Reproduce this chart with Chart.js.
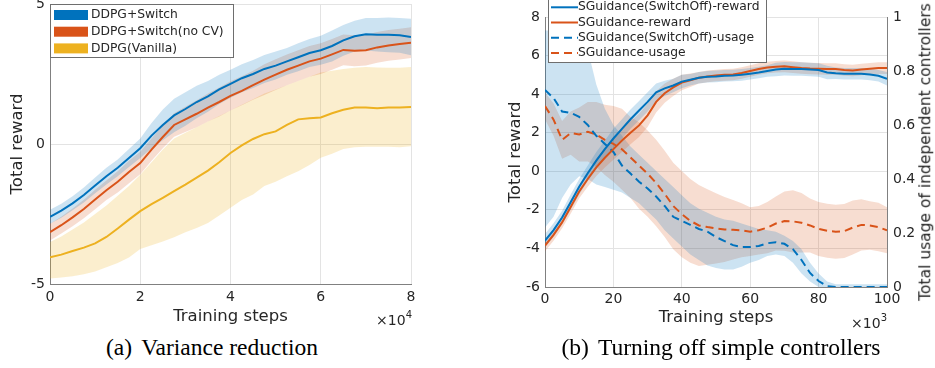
<!DOCTYPE html>
<html>
<head>
<meta charset="utf-8">
<title>Training reward</title>
<script src="https://cdn.jsdelivr.net/npm/chart.js@4.4.1/dist/chart.umd.min.js"></script>
<style>
  body { margin: 0; background: #fff; font-family: 'DejaVu Sans', sans-serif; color: #262626; }
  #page { position: relative; width: 935px; height: 368px; overflow: hidden; }
  canvas { position: absolute; top: 0; }
  #chartA { left: 0; }
  #chartB { left: 470px; }
  .scale-note { position: absolute; font-size: 14px; line-height: 1; white-space: nowrap; }
  .scale-note sup { font-size: 10px; position: relative; top: -1px; }
  .caption { position: absolute; top: 336px; font-family: 'Liberation Serif', serif; font-size: 23.5px; line-height: 1; white-space: nowrap; transform: translateX(-50%); color: #000; }
  .caption span { margin-right: 9px; }
  #usageTitle { position: absolute; left: 926px; top: 152px; font-size: 15.5px; line-height: 1; white-space: nowrap; transform: translate(-50%, -50%) rotate(-90deg); }
</style>
</head>
<body>
<div id="page">
  <canvas id="chartA" width="440" height="330"></canvas>
  <canvas id="chartB" width="465" height="330"></canvas>
  <div class="scale-note" style="right:523px; top:311px;">&times;10<sup>4</sup></div>
  <div class="scale-note" style="right:48px; top:314px;">&times;10<sup>3</sup></div>
  <div id="usageTitle">Total usage of independent controllers</div>
  <div class="caption" style="left:212px;"><span>(a)</span>Variance reduction</div>
  <div class="caption" style="left:721px;"><span>(b)</span>Turning off simple controllers</div>
</div>
<script>
// ---- (a) variance reduction, x in 1e4 steps ----
const stepsA = [0, 0.25, 0.5, 0.75, 1, 1.25, 1.5, 1.75, 2, 2.25, 2.5, 2.75, 3, 3.25, 3.5, 3.75, 4,
                4.25, 4.5, 4.75, 5, 5.25, 5.5, 5.75, 6, 6.25, 6.5, 6.75, 7, 7.25, 7.5, 7.75, 8];
const seriesA = ['DDPG+Switch', 'DDPG+Switch(no CV)', 'DDPG(Vanilla)'];
const switchMean = [-2.6, -2.38, -2.12, -1.82, -1.48, -1.15, -0.85, -0.5, -0.15, 0.3, 0.68, 1.02, 1.25, 1.5, 1.7, 1.95, 2.15,
                    2.35, 2.5, 2.68, 2.8, 2.95, 3.1, 3.25, 3.35, 3.5, 3.7, 3.85, 3.92, 3.9, 3.9, 3.88, 3.82];
const switchSpread = [0.25, 0.25, 0.25, 0.27, 0.28, 0.3, 0.3, 0.32, 0.35, 0.45, 0.55, 0.6, 0.6, 0.58, 0.55, 0.52, 0.5,
                      0.5, 0.5, 0.5, 0.5, 0.48, 0.5, 0.5, 0.52, 0.55, 0.55, 0.55, 0.58, 0.6, 0.62, 0.62, 0.65];
const noCvMean = [-3.15, -2.9, -2.62, -2.32, -1.98, -1.65, -1.35, -1.0, -0.68, -0.2, 0.25, 0.68, 0.88, 1.08, 1.3, 1.5, 1.72,
                  1.9, 2.1, 2.3, 2.48, 2.65, 2.8, 2.95, 3.05, 3.2, 3.36, 3.33, 3.35, 3.45, 3.52, 3.57, 3.62];
const noCvSpread = [0.3, 0.3, 0.32, 0.33, 0.35, 0.35, 0.38, 0.4, 0.4, 0.4, 0.4, 0.42, 0.45, 0.48, 0.5, 0.52, 0.52,
                    0.52, 0.52, 0.55, 0.55, 0.55, 0.55, 0.55, 0.55, 0.55, 0.55, 0.55, 0.55, 0.55, 0.55, 0.55, 0.55];
const vanillaMean = [-4.05, -3.95, -3.82, -3.7, -3.55, -3.32, -3.02, -2.7, -2.4, -2.15, -1.92, -1.68, -1.45, -1.2, -0.95, -0.65, -0.32,
                     -0.05, 0.18, 0.35, 0.45, 0.68, 0.88, 0.92, 0.95, 1.1, 1.22, 1.3, 1.3, 1.28, 1.3, 1.3, 1.32];
const vanillaHigh = [-3.5, -3.3, -3.05, -2.8, -2.5, -2.2, -1.85, -1.5, -1.1, -0.65, -0.2, 0.2, 0.4, 0.6, 0.8, 1.0, 1.2,
                     1.4, 1.6, 1.8, 1.95, 2.1, 2.25, 2.4, 2.55, 2.62, 2.68, 2.72, 2.75, 2.73, 2.72, 2.72, 2.75];
const vanillaLow = [-4.8, -4.77, -4.72, -4.65, -4.55, -4.4, -4.25, -4.05, -3.75, -3.62, -3.48, -3.33, -3.15, -3.0, -2.82, -2.55, -2.28,
                    -2.0, -1.8, -1.5, -1.35, -1.15, -0.97, -0.75, -0.49, -0.35, -0.18, -0.12, -0.1, -0.1, -0.1, -0.12, -0.08];
const ticksA = { x: [0, 8, 2], y: [-5, 5, 5] };

// ---- (b) switching off simple controllers, x in 1e3 steps ----
const stepsB = [0, 2.5, 5, 7.5, 10, 12.5, 15, 17.5, 20, 22.5, 25, 27.5, 30, 32.5, 35, 37.5, 40, 42.5, 45, 47.5, 50,
                52.5, 55, 57.5, 60, 62.5, 65, 67.5, 70, 72.5, 75, 77.5, 80, 82.5, 85, 87.5, 90, 92.5, 95, 97.5, 100];
const seriesB = ['SGuidance(SwitchOff)-reward', 'SGuidance-reward', 'SGuidance(SwitchOff)-usage', 'SGuidance-usage'];
const offReward = [-3.6, -3.05, -2.4, -1.6, -0.8, -0.1, 0.55, 1.15, 1.7, 2.2, 2.7, 3.15, 3.6, 4.1, 4.3, 4.45, 4.65, 4.75, 4.85, 4.9, 4.92,
                   4.95, 4.97, 5.0, 5.06, 5.12, 5.2, 5.28, 5.32, 5.3, 5.3, 5.28, 5.25, 5.12, 5.08, 5.06, 5.06, 5.06, 5.02, 4.95, 4.8];
const offRewardSpread = [0.35, 0.35, 0.35, 0.4, 0.4, 0.4, 0.45, 0.45, 0.5, 0.5, 0.5, 0.5, 0.5, 0.45, 0.4, 0.35, 0.35, 0.3, 0.3, 0.3, 0.3,
                         0.3, 0.3, 0.3, 0.3, 0.3, 0.3, 0.35, 0.35, 0.35, 0.35, 0.35, 0.35, 0.35, 0.3, 0.3, 0.3, 0.3, 0.3, 0.3, 0.35];
const guideReward = [-3.85, -3.3, -2.65, -1.85, -1.05, -0.4, 0.2, 0.7, 1.15, 1.6, 2.0, 2.38, 2.9, 3.6, 4.05, 4.35, 4.6, 4.72, 4.85, 4.92, 4.97,
                     5.0, 5.02, 5.1, 5.2, 5.3, 5.38, 5.42, 5.44, 5.4, 5.36, 5.33, 5.32, 5.3, 5.3, 5.25, 5.23, 5.28, 5.32, 5.35, 5.35];
const guideRewardSpread = [0.3, 0.3, 0.3, 0.35, 0.35, 0.4, 0.45, 0.5, 0.55, 0.6, 0.6, 0.6, 0.6, 0.55, 0.5, 0.45, 0.4, 0.35, 0.3, 0.3, 0.3,
                           0.3, 0.3, 0.3, 0.3, 0.3, 0.3, 0.3, 0.3, 0.3, 0.3, 0.3, 0.3, 0.3, 0.3, 0.3, 0.3, 0.3, 0.3, 0.3, 0.3];
const offUsage = [0.73, 0.70, 0.65, 0.645, 0.63, 0.60, 0.56, 0.53, 0.50, 0.45, 0.42, 0.39, 0.365, 0.335, 0.30, 0.26, 0.245, 0.23, 0.215, 0.205, 0.185,
                  0.17, 0.155, 0.148, 0.148, 0.152, 0.162, 0.166, 0.16, 0.14, 0.10, 0.052, 0.022, 0.003, 0, 0, 0, 0, 0, 0, 0];
const offUsageHigh = [0.95, 0.95, 0.95, 0.93, 0.92, 0.88, 0.75, 0.66, 0.6, 0.56, 0.52, 0.49, 0.46, 0.43, 0.4, 0.37, 0.34, 0.31, 0.29, 0.275, 0.26,
                      0.25, 0.245, 0.235, 0.225, 0.215, 0.21, 0.205, 0.19, 0.17, 0.14, 0.09, 0.05, 0.02, 0.01, 0.01, 0.01, 0.01, 0.01, 0.01, 0.01];
const offUsageLow = [0.22, 0.26, 0.33, 0.38, 0.41, 0.4, 0.38, 0.37, 0.36, 0.35, 0.33, 0.31, 0.28, 0.25, 0.21, 0.18, 0.15, 0.12, 0.1, 0.08, 0.07,
                     0.065, 0.065, 0.075, 0.09, 0.1, 0.115, 0.12, 0.115, 0.09, 0.05, 0.02, 0, 0, 0, 0, 0, 0, 0, 0, 0];
const guideUsage = [0.67, 0.62, 0.545, 0.57, 0.565, 0.575, 0.565, 0.545, 0.53, 0.51, 0.48, 0.45, 0.42, 0.385, 0.345, 0.3, 0.27, 0.245, 0.228, 0.222, 0.217,
                    0.213, 0.212, 0.21, 0.205, 0.21, 0.22, 0.235, 0.244, 0.243, 0.238, 0.228, 0.215, 0.208, 0.205, 0.207, 0.22, 0.23, 0.228, 0.222, 0.21];
const guideUsageSpread = [0.05, 0.06, 0.07, 0.08, 0.1, 0.11, 0.12, 0.13, 0.14, 0.15, 0.15, 0.16, 0.16, 0.16, 0.16, 0.16, 0.16, 0.155, 0.15, 0.14, 0.13,
                          0.12, 0.11, 0.1, 0.09, 0.09, 0.095, 0.1, 0.11, 0.115, 0.11, 0.1, 0.1, 0.1, 0.1, 0.1, 0.1, 0.095, 0.09, 0.09, 0.085];
const ticksB = { x: [0, 100, 20], y: [-6, 8, 2], y1: [0, 1, 0.2] };

const BLUE = '#0072BD', ORANGE = '#D95319', YELLOW = '#EDB120';
const INK = '#262626', AXIS = '#808080', GRID = '#e3e3e3';
const FONT = 'DejaVu Sans';

function pts(xs, ys) {
    return xs.map((x, i) => ({ x: x, y: ys[i] }));
}
function plus(a, b) { return a.map((v, i) => v + b[i]); }
function minus(a, b) { return a.map((v, i) => v - b[i]); }

// line for a mean curve
function lineSet(label, xs, ys, color, axis, dash) {
    return {
        label: label, data: pts(xs, ys), yAxisID: axis,
        borderColor: color, borderWidth: 2, borderDash: dash || [],
        pointRadius: 0, fill: false, tension: 0
    };
}
// shaded band: upper edge filled down to the lower edge
function bandSets(xs, lo, hi, fillColor, axis) {
    const clear = 'rgba(0,0,0,0)';
    return [
        { data: pts(xs, hi), yAxisID: axis, borderColor: clear, borderWidth: 1, pointRadius: 0, fill: '+1', backgroundColor: fillColor },
        { data: pts(xs, lo), yAxisID: axis, borderColor: clear, borderWidth: 1, pointRadius: 0, fill: false }
    ];
}

// legend drawn inside the plot like the Matlab box
const boxLegend = {
    id: 'boxLegend',
    afterDraw(chart, args, o) {
        const ctx = chart.ctx;
        ctx.save();
        ctx.fillStyle = '#ffffff';
        ctx.fillRect(o.x, o.y, o.w, o.h);
        ctx.strokeStyle = '#6e6e6e';
        ctx.lineWidth = 1;
        ctx.strokeRect(o.x + 0.5, o.y + 0.5, o.w, o.h);
        ctx.font = o.font;
        ctx.textBaseline = 'middle';
        o.items.forEach((it, i) => {
            const cy = o.y + o.first + i * o.row;
            if (it.patch) {
                ctx.fillStyle = it.color;
                ctx.fillRect(o.x + o.sx, cy - 5, o.sw, 10);
            } else {
                ctx.strokeStyle = it.color;
                ctx.lineWidth = 2;
                ctx.setLineDash(it.dash || []);
                ctx.beginPath();
                ctx.moveTo(o.x + o.sx, cy);
                ctx.lineTo(o.x + o.sx + o.sw, cy);
                ctx.stroke();
                ctx.setLineDash([]);
            }
            ctx.fillStyle = INK;
            ctx.fillText(it.text, o.x + o.tx, cy);
        });
        ctx.restore();
    }
};

function axisOpts(range, extra) {
    return Object.assign({
        type: 'linear', min: range[0], max: range[1],
        ticks: { stepSize: range[2], color: INK, font: { family: FONT, size: 14 } },
        grid: { color: GRID, drawTicks: false },
        border: { color: AXIS }
    }, extra);
}
function fixX(h) {
    return s => { s.height = h; s.paddingLeft = 0; s.paddingRight = 0; };
}
function fixY(w) {
    return s => { s.width = w; s.paddingTop = 0; s.paddingBottom = 0; };
}
function titleOpts(text, pad) {
    return { display: true, text: text, color: INK, font: { family: FONT, size: 16.5 }, padding: pad };
}
function baseOptions() {
    return {
        responsive: false, animation: false, devicePixelRatio: 1, events: [],
        plugins: { legend: { display: false }, tooltip: { enabled: false }, filler: { drawTime: 'beforeDatasetsDraw' } }
    };
}

// ---- chart (a) ----
const optsA = baseOptions();
optsA.layout = { autoPadding: false, padding: { left: 0, right: 29, top: 4, bottom: 0 } };
optsA.scales = {
    x: axisOpts(ticksA.x, { afterFit: fixX(46), title: titleOpts('Training steps', { top: 0, bottom: 3 }) }),
    y: axisOpts(ticksA.y, { afterFit: fixY(50), title: titleOpts('Total reward', { top: 8, bottom: 0 }) })
};
optsA.scales.x.ticks.padding = 5;
optsA.scales.y.ticks.padding = 5;
optsA.plugins.boxLegend = {
    x: 50, y: 4, w: 183, h: 53, first: 11, row: 16.7, sx: 4, sw: 34, tx: 41,
    font: '12.3px "DejaVu Sans"',
    items: [
        { text: seriesA[0], color: BLUE, patch: true },
        { text: seriesA[1], color: ORANGE, patch: true },
        { text: seriesA[2], color: YELLOW, patch: true }
    ]
};
new Chart(document.getElementById('chartA'), {
    type: 'line',
    data: {
        datasets: [
            lineSet(seriesA[0], stepsA, switchMean, BLUE, 'y'),
            lineSet(seriesA[1], stepsA, noCvMean, ORANGE, 'y'),
            lineSet(seriesA[2], stepsA, vanillaMean, YELLOW, 'y'),
            ...bandSets(stepsA, minus(switchMean, switchSpread), plus(switchMean, switchSpread), 'rgba(0,114,189,0.2)', 'y'),
            ...bandSets(stepsA, minus(noCvMean, noCvSpread), plus(noCvMean, noCvSpread), 'rgba(217,83,25,0.2)', 'y'),
            ...bandSets(stepsA, vanillaLow, vanillaHigh, 'rgba(237,177,32,0.22)', 'y')
        ]
    },
    options: optsA,
    plugins: [boxLegend]
});

// ---- chart (b) ----
const optsB = baseOptions();
optsB.layout = { autoPadding: false, padding: { left: 0, right: 0, top: 17, bottom: 0 } };
optsB.scales = {
    x: axisOpts(ticksB.x, { afterFit: fixX(43), title: titleOpts('Training steps', { top: 0, bottom: 2.4 }) }),
    y: axisOpts(ticksB.y, { position: 'left', afterFit: fixY(75), title: titleOpts('Total reward', { top: 35.4, bottom: 0 }) }),
    y1: axisOpts(ticksB.y1, { position: 'right', afterFit: fixY(48) })
};
optsB.scales.x.ticks.padding = 4;
optsB.scales.y.ticks.padding = 5;
optsB.scales.y1.ticks.padding = 6;
// Matlab style labels: 0, 0.2 ... 1
optsB.scales.y1.ticks.callback = v => String(Number(v.toFixed(2)));
optsB.scales.y1.grid = { drawOnChartArea: false, drawTicks: false };
optsB.plugins.boxLegend = {
    x: 548 - 470, y: -2, w: 218, h: 64, first: 9.3, row: 15.2, sx: 3, sw: 27, tx: 30,
    font: '12.3px "DejaVu Sans"',
    items: [
        { text: seriesB[0], color: BLUE },
        { text: seriesB[1], color: ORANGE },
        { text: seriesB[2], color: BLUE, dash: [8, 5] },
        { text: seriesB[3], color: ORANGE, dash: [8, 5] }
    ]
};
new Chart(document.getElementById('chartB'), {
    type: 'line',
    data: {
        datasets: [
            lineSet(seriesB[0], stepsB, offReward, BLUE, 'y'),
            lineSet(seriesB[1], stepsB, guideReward, ORANGE, 'y'),
            lineSet(seriesB[2], stepsB, offUsage, BLUE, 'y1', [8, 5]),
            lineSet(seriesB[3], stepsB, guideUsage, ORANGE, 'y1', [8, 5]),
            ...bandSets(stepsB, minus(offReward, offRewardSpread), plus(offReward, offRewardSpread), 'rgba(0,114,189,0.2)', 'y'),
            ...bandSets(stepsB, minus(guideReward, guideRewardSpread), plus(guideReward, guideRewardSpread), 'rgba(217,83,25,0.2)', 'y'),
            ...bandSets(stepsB, offUsageLow, offUsageHigh, 'rgba(0,114,189,0.2)', 'y1'),
            ...bandSets(stepsB, minus(guideUsage, guideUsageSpread), plus(guideUsage, guideUsageSpread), 'rgba(217,83,25,0.2)', 'y1')
        ]
    },
    options: optsB,
    plugins: [boxLegend]
});
</script>
</body>
</html>
